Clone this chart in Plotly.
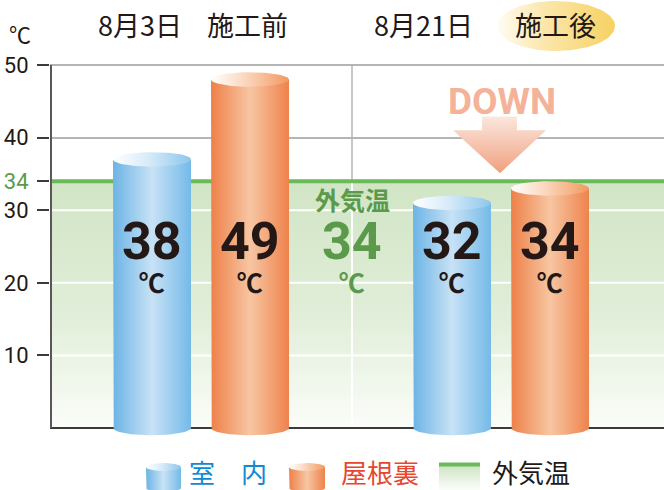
import numpy as np
import plotly.graph_objects as go

# ---------------- data ----------------
dates = ["8月3日", "8月21日"]
phases = ["施工前", "施工後"]
series_names = ["室　内", "屋根裏", "外気温"]
indoor = [38, 32]
attic = [49, 34]
outdoor = 34
y_ticks = [10, 20, 30, 40, 50]

# ---------------- geometry / styles ----------------
W, H = 664, 490
PXY = 7.267
x_range = [-0.02, 6.12]
y_range = [-1.7, 50.3]
top_px = 65 - 0.3 * PXY
bot_px = 428 + 1.7 * PXY
ydom = [(H - bot_px) / H, (H - top_px) / H]
xdom = [50 / W, 1]

DARK = "#231815"
GREEN = "#6ab95b"
GREEN_TXT = "#5b9a4b"
GRID = "#b5b5b5"
BLUE_BODY = [[0, "#6cb4e5"], [0.5, "#c8e2f6"], [1, "#74bae8"]]
BLUE_TOP = [[0, "#ffffff"], [0.45, "#d8ebf9"], [1, "#8dc6ec"]]
ORG_BODY = [[0, "#ee8049"], [0.5, "#f7c6a2"], [1, "#ee834c"]]
ORG_TOP = [[0, "#ffffff"], [0.45, "#fad6bd"], [1, "#f2995f"]]
RX, RY = 0.39, 1.0
JP = "Noto Sans CJK JP"

fig = go.Figure()


def poly(xs, ys, scale, gtype="horizontal", xa="x", ya="y", start=None, stop=None):
    fg = dict(type=gtype, colorscale=scale)
    if start is not None:
        fg["start"] = start
        fg["stop"] = stop
    fig.add_trace(go.Scatter(x=list(xs), y=list(ys), mode="lines", fill="toself",
                             line=dict(width=0), fillgradient=fg, xaxis=xa, yaxis=ya,
                             hoverinfo="skip", showlegend=False))


def line(xs, ys, color, width, xa="x", ya="y"):
    fig.add_trace(go.Scatter(x=list(xs), y=list(ys), mode="lines",
                             line=dict(color=color, width=width), xaxis=xa, yaxis=ya,
                             hoverinfo="skip", showlegend=False))


def cylinder(xc, top, bottom, rx, ry, body, cap, xa="x", ya="y"):
    t = np.linspace(0, np.pi, 50)
    bx = [xc - rx] + list(xc - rx * np.cos(t)) + [xc + rx]
    by = [top - ry] + list(bottom - ry * np.sin(t)) + [top - ry]
    poly(bx, by, body, xa=xa, ya=ya)
    t2 = np.linspace(0, 2 * np.pi, 80)
    poly(xc + rx * np.cos(t2), top - ry + ry * np.sin(t2), cap, xa=xa, ya=ya)


# gray vertical divider above the outdoor band
line([3, 3], [outdoor, 50], GRID, 1.5)
# outdoor temperature region
poly([x_range[0], x_range[1], x_range[1], x_range[0]], [0, 0, outdoor, outdoor],
     [[0, "#fbfdf9"], [0.45, "#e1eed9"], [1, "#d1e5c5"]], gtype="vertical", start=0, stop=outdoor)
# white grid lines inside the green region
for v in y_ticks:
    if v < outdoor:
        line(x_range, [v, v], "white", 2)
line([3, 3], [0, outdoor], "white", 2)
# outdoor line
line(x_range, [outdoor, outdoor], GREEN, 4)
# axes lines
line(x_range, [0, 0], "#3e3a39", 2)
line([-0.01, -0.01], [0, 50], "#595757", 2)

# DOWN arrow (decoration near the after group)
ax = 4.48
tip = attic[1] + 1.1
poly([ax - 0.18, ax + 0.17, ax + 0.17, ax + 0.46, ax, ax - 0.47, ax - 0.18],
     [42.9, 42.9, 41.0, 41.0, tip, 41.0, 41.0],
     [[0, "#f0a07f"], [1, "#fbe7de"]], gtype="vertical", start=tip, stop=42.9)

# bars (cylinders)
centers = [1.5, 4.5]
for i in range(len(dates)):
    cylinder(centers[i] - 0.5, indoor[i], 0, RX, RY, BLUE_BODY, BLUE_TOP)
    cylinder(centers[i] + 0.48, attic[i], 0, RX, RY, ORG_BODY, ORG_TOP)

# ---------------- legend (pixel axes) ----------------
cylinder(163.5, 463, 488, 17.5, -4, BLUE_BODY, BLUE_TOP, xa="x2", ya="y2")
cylinder(307, 463, 488, 18, -4, ORG_BODY, ORG_TOP, xa="x2", ya="y2")
poly([439, 480, 480, 439], [465, 465, 492, 492], [[0, "#cfe4c2"], [1, "#ffffff"]],
     gtype="vertical", xa="x2", ya="y2", start=465, stop=492)
line([439, 480], [464.5, 464.5], GREEN, 4, xa="x2", ya="y2")

# ---------------- title ellipse (pixel axes) ----------------
t3 = np.linspace(0, 2 * np.pi, 100)
poly(556 + 59 * np.cos(t3), 26 + 25 * np.sin(t3),
     [[0, "#fffcf4"], [0.4, "#fbe7ab"], [1, "#f7d163"]], xa="x3", ya="y3")

# ---------------- annotations ----------------
ann = []
label_y = (428 - 255) / PXY


def value_label(x, v, color):
    txt = (f"<span style='font-family:Roboto;font-size:52px'><b>{v}</b></span>"
           f"<br>℃")
    ann.append(dict(x=x, y=label_y, text=txt, showarrow=False, xref="x", yref="y",
                    yanchor="middle",
                    font=dict(family=JP, size=26, color=color, weight="bold")))


for i in range(len(dates)):
    value_label(centers[i] - 0.5, indoor[i], DARK)
    value_label(centers[i] + 0.48, attic[i], DARK)
ann.append(dict(x=3, y=(428 - 199) / PXY, text=series_names[2], showarrow=False,
                font=dict(family=JP, size=25, color=GREEN_TXT, weight="bold")))
value_label(3, outdoor, GREEN_TXT)
ann.append(dict(x=4.50, y=(428 - 101) / PXY, text="DOWN", showarrow=False,
                font=dict(family="Roboto", size=37, color="#f4b398", weight="bold")))


def pa(px, py, text, size, color, family=JP, weight="normal"):
    ann.append(dict(x=px / W, y=1 - py / H, xref="paper", yref="paper", text=text,
                    showarrow=False, xanchor="center", yanchor="middle",
                    font=dict(family=family, size=size, color=color, weight=weight)))


pa(20, 33, "℃", 22, DARK)
pa(140, 24, dates[0], 27, DARK)
pa(247, 24, phases[0], 27, DARK)
pa(424, 24, dates[1], 27, DARK)
pa(555, 24, phases[1], 27, DARK)
pa(228, 471, series_names[0], 26, "#0f8ad3")
pa(380, 471, series_names[1], 26, "#e6472e")
pa(531, 471, series_names[2], 26, DARK)

ticktext = [f"<span style='color:{GREEN_TXT}'>34</span>" if v == outdoor else str(v)
            for v in sorted(y_ticks + [outdoor])]

fig.update_layout(
    width=W, height=H, autosize=False,
    margin=dict(l=0, r=0, t=0, b=0, pad=0, autoexpand=False),
    paper_bgcolor="white", plot_bgcolor="rgba(0,0,0,0)",
    showlegend=False, annotations=ann,
    xaxis=dict(domain=xdom, range=x_range, showticklabels=False, ticks="",
               showgrid=False, zeroline=False, fixedrange=True, automargin=False),
    yaxis=dict(domain=ydom, range=y_range, tickvals=sorted(y_ticks + [outdoor]), ticktext=ticktext,
               ticks="outside", ticklen=12, tickwidth=1.5, tickcolor="#3e3a39",
               showgrid=True, gridcolor=GRID, gridwidth=1.5, zeroline=False,
               tickfont=dict(family="Roboto", size=22, color=DARK), ticklabelstandoff=4,
               fixedrange=True, automargin=False),
    xaxis2=dict(domain=[0, 1], range=[0, W], visible=False, anchor="y2", fixedrange=True, automargin=False),
    yaxis2=dict(domain=[0, 49 / H], range=[H, H - 49], visible=False, anchor="x2", fixedrange=True, automargin=False),
    xaxis3=dict(domain=[0, 1], range=[0, W], visible=False, anchor="y3", fixedrange=True, automargin=False),
    yaxis3=dict(domain=[1 - 54 / H, 1], range=[54, 0], visible=False, anchor="x3", fixedrange=True, automargin=False),
)

fig.write_html("out.html", config={"displayModeBar": False},
               post_script="document.body.style.margin='0';")
